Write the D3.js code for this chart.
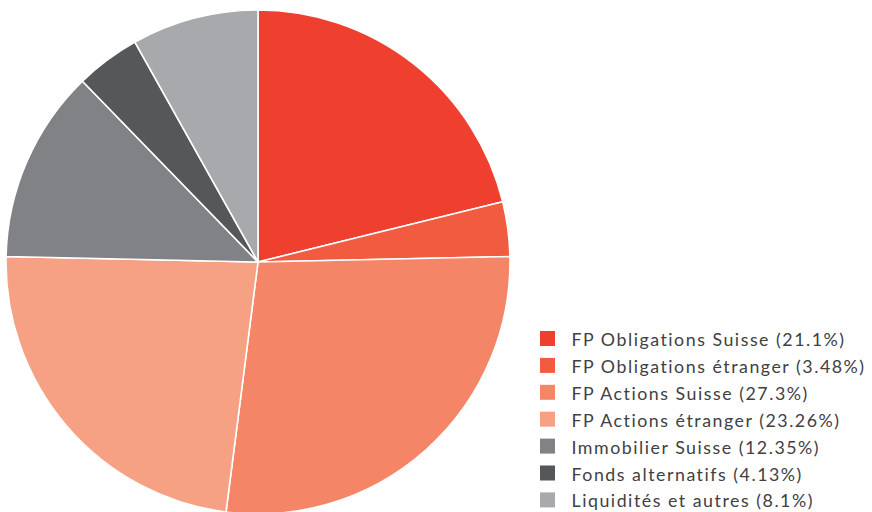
<!DOCTYPE html>
<html><head><meta charset="utf-8">
<script src="https://cdn.jsdelivr.net/npm/d3@7"></script>
<style>html,body{margin:0;padding:0;background:#fff;}svg{display:block;}</style>
</head><body>
<svg id="chart" width="872" height="512"></svg>
<script>
const categories = ["FP Obligations Suisse","FP Obligations étranger","FP Actions Suisse","FP Actions étranger","Immobilier Suisse","Fonds alternatifs","Liquidités et autres"];
const values = [21.1, 3.48, 27.3, 23.26, 12.35, 4.13, 8.1];
const labels = ["21.1%","3.48%","27.3%","23.26%","12.35%","4.13%","8.1%"];
const colors = ["#ef402f","#f15b40","#f48567","#f6a084","#808285","#555759","#a7a9ac"];

const svg = d3.select("#chart");
const cx = 258, cy = 262, R = 252;
const pie = d3.pie().sort(null).value(d => d.v);
const arc = d3.arc().innerRadius(0).outerRadius(R);
const data = categories.map((c,i)=>({c, v: values[i], l: labels[i], col: colors[i]}));
const g = svg.append("g").attr("transform",`translate(${cx},${cy})`);
g.selectAll("path").data(pie(data)).join("path")
  .attr("d", arc).attr("fill", d=>d.data.col)
  .attr("stroke","#fff").attr("stroke-width",1.6).attr("stroke-linejoin","round");

const leg = svg.append("g").attr("transform","translate(540,331)");
const row = leg.selectAll("g").data(data).join("g").attr("transform",(d,i)=>`translate(0,${i*26.9})`);
row.append("rect").attr("width",15).attr("height",15).attr("fill",d=>d.col);
const txt = row.append("text").attr("x",31.5).attr("y",15)
  .attr("font-family","Lato, sans-serif").attr("font-size",17.8)
  .style("font-variant-ligatures","none")
  .attr("fill","#414042").text(d=>`${d.c} (${d.l})`);
const first = txt.node();
const w0 = first.getComputedTextLength();
const n = first.textContent.length;
txt.attr("letter-spacing", ((274 - w0) / n).toFixed(2));
</script>
</body></html>
